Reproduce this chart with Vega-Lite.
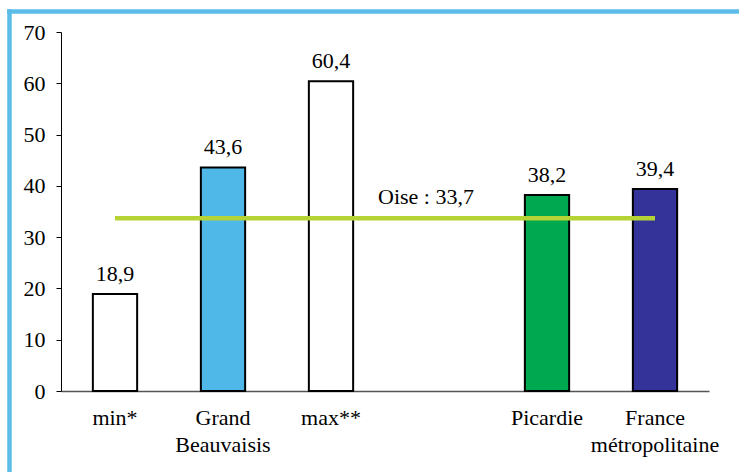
{
  "$schema": "https://vega.github.io/schema/vega-lite/v6.json",
  "width": 730,
  "height": 461,
  "autosize": {"type": "none"},
  "padding": {"left": 9, "top": 11, "right": 0, "bottom": 0},
  "background": "white",
  "config": {
    "view": {"stroke": null},
    "font": "Liberation Serif",
    "locale": {"number": {"decimal": ",", "thousands": "\u00a0", "grouping": [3], "currency": ["", " €"]}}
  },
  "datasets": {
    "bars": [
      {"cat": "min*", "v": 18.9},
      {"cat": "Grand Beauvaisis", "v": 43.6},
      {"cat": "max**", "v": 60.4},
      {"cat": "Picardie", "v": 38.2},
      {"cat": "France métropolitaine", "v": 39.4}
    ],
    "oise": [
      {"cat": "min*", "v": 33.7},
      {"cat": "France métropolitaine", "v": 33.7}
    ],
    "oiseLabel": [
      {"cat": "gap", "v": 33.7, "label": "Oise : 33,7"}
    ],
    "frame": [
      {"k": "frame", "w": 0}
    ]
  },
  "layer": [
    {
      "encoding": {
        "x": {
          "field": "cat",
          "type": "nominal",
          "sort": null,
          "scale": {
            "domain": ["min*", "Grand Beauvaisis", "max**", "gap", "Picardie", "France métropolitaine"],
            "range": [52, 700],
            "paddingInner": 0.59,
            "paddingOuter": 0.295
          },
          "axis": {
            "orient": "bottom",
            "title": null,
            "ticks": false,
            "grid": false,
            "domainColor": "#555555",
            "domainWidth": 1.5,
            "labelFont": "Liberation Serif",
            "labelFontSize": 22,
            "labelColor": "black",
            "labelPadding": 16,
            "labelAngle": 0,
            "labelLineHeight": 27,
            "labelLimit": 300,
            "offset": -81,
            "labelExpr": "datum.value == 'Grand Beauvaisis' ? ['Grand', 'Beauvaisis'] : datum.value == 'France métropolitaine' ? ['France', 'métropolitaine'] : datum.value == 'gap' ? '' : datum.value"
          }
        },
        "y": {
          "field": "v",
          "type": "quantitative",
          "scale": {"domain": [0, 70], "range": [380, 21], "nice": false, "zero": true},
          "axis": {
            "orient": "left",
            "title": null,
            "values": [0, 10, 20, 30, 40, 50, 60, 70],
            "grid": false,
            "domainColor": "black",
            "tickColor": "black",
            "tickSize": 5,
            "labelFont": "Liberation Serif",
            "labelFontSize": 22,
            "labelColor": "black",
            "labelPadding": 11,
            "offset": -52
          }
        }
      },
      "layer": [
        {
          "data": {"name": "bars"},
          "mark": {"type": "bar", "stroke": "black", "strokeWidth": 2},
          "encoding": {
            "color": {
              "field": "cat",
              "type": "nominal",
              "legend": null,
              "scale": {
                "domain": ["min*", "Grand Beauvaisis", "max**", "Picardie", "France métropolitaine"],
                "range": ["#FFFFFF", "#4FB8E8", "#FFFFFF", "#00A94F", "#333399"]
              }
            }
          }
        },
        {
          "data": {"name": "bars"},
          "mark": {"type": "text", "baseline": "alphabetic", "dy": -13, "fontSize": 22, "color": "black", "font": "Liberation Serif"},
          "encoding": {
            "text": {"field": "v", "type": "quantitative", "format": ".1f"}
          }
        },
        {
          "data": {"name": "oise"},
          "mark": {"type": "line", "color": "#B5D334", "strokeWidth": 4.5},
          "encoding": {}
        },
        {
          "data": {"name": "oiseLabel"},
          "mark": {"type": "text", "baseline": "alphabetic", "dx": -13, "dy": -14, "fontSize": 22, "color": "black", "font": "Liberation Serif"},
          "encoding": {
            "text": {"field": "label", "type": "nominal"}
          }
        }
      ]
    },
    {
      "data": {"name": "frame"},
      "mark": {"type": "point", "opacity": 0},
      "encoding": {
        "x": {
          "field": "k",
          "type": "nominal",
          "axis": {"orient": "top", "title": null, "labels": false, "ticks": false, "grid": false, "domainColor": "#5BBDE8", "domainWidth": 4.5, "domainCap": "square", "offset": 0}
        },
        "y": {
          "field": "w",
          "type": "quantitative",
          "scale": {"domain": [0, 1]},
          "axis": {"orient": "left", "title": null, "labels": false, "ticks": false, "grid": false, "domainColor": "#5BBDE8", "domainWidth": 4.5, "domainCap": "square", "offset": 0}
        }
      }
    }
  ],
  "resolve": {
    "scale": {"x": "independent", "y": "independent", "color": "independent"},
    "axis": {"x": "independent", "y": "independent"}
  }
}
